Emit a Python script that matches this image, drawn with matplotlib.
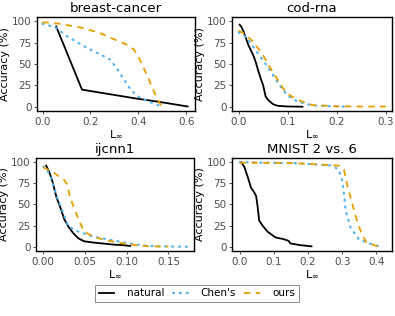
import matplotlib
matplotlib.use("Agg")
import matplotlib.pyplot as plt

# breast-cancer
bc_nat_x = [0.057, 0.165, 0.382, 0.494, 0.606]
bc_nat_y = [94, 20, 10, 5.4, 0.3]
bc_chen_x = [0.0, 0.053, 0.102, 0.172, 0.242, 0.284, 0.312, 0.34, 0.368, 0.396, 0.438, 0.5]
bc_chen_y = [97, 93, 82.5, 71, 61, 55, 44, 32, 20, 12.5, 6.6, 0]
bc_ours_x = [0.0, 0.074, 0.172, 0.242, 0.298, 0.35, 0.382, 0.403, 0.438, 0.48, 0.5]
bc_ours_y = [99, 97, 92, 86, 79, 73, 67, 57, 36, 8.5, 0]

# cod-rna
cod_nat_x = [0.002, 0.005, 0.01, 0.015, 0.02, 0.025, 0.03, 0.035, 0.04, 0.045, 0.05, 0.055, 0.06, 0.07, 0.08, 0.1, 0.13]
cod_nat_y = [96, 94, 88, 80, 72, 66, 60, 52, 42, 33, 25, 12, 8, 3, 1, 0.3, 0]
cod_chen_x = [0.0, 0.01, 0.02, 0.03, 0.04, 0.05, 0.06, 0.07, 0.08, 0.09, 0.1, 0.12, 0.15, 0.2, 0.22]
cod_chen_y = [87, 84, 78, 70, 62, 54, 46, 37, 28, 20, 13, 6, 1.5, 0.3, 0]
cod_ours_x = [0.0, 0.01, 0.02, 0.03, 0.04, 0.05, 0.06, 0.07, 0.08, 0.09, 0.1, 0.12, 0.15, 0.2, 0.25, 0.3]
cod_ours_y = [89, 86, 81, 76, 68, 60, 50, 40, 31, 22, 15, 8, 2, 0.5, 0.2, 0.2]

# ijcnn1
ij_nat_x = [0.0035, 0.007, 0.0105, 0.016, 0.021, 0.025, 0.03, 0.036, 0.042, 0.049, 0.06, 0.07, 0.085, 0.095, 0.104]
ij_nat_y = [96, 89, 79, 58, 45, 33, 24, 16, 10, 6.5, 5, 4, 2.5, 2, 1]
ij_chen_x = [0.0, 0.005, 0.01, 0.016, 0.025, 0.03, 0.042, 0.06, 0.081, 0.1, 0.12, 0.14, 0.172]
ij_chen_y = [95, 90, 80, 60, 37, 24, 18, 12, 8, 4.5, 1.5, 0.5, 0]
ij_ours_x = [0.0, 0.012, 0.025, 0.028, 0.033, 0.042, 0.049, 0.06, 0.074, 0.095, 0.113, 0.13, 0.15]
ij_ours_y = [94, 88, 79, 75, 56, 33, 18, 12, 8, 4, 1.5, 0.5, 0.2]

# MNIST 2 vs. 6
mn_nat_x = [0.005, 0.014, 0.024, 0.033, 0.043, 0.048, 0.052, 0.057, 0.067, 0.081, 0.105, 0.129, 0.143, 0.148, 0.176, 0.21]
mn_nat_y = [100, 94, 82, 70, 64, 60, 49, 31, 25, 18, 11, 9, 7, 4, 2, 0.5]
mn_chen_x = [0.0, 0.157, 0.271, 0.29, 0.3, 0.305, 0.31, 0.324, 0.348, 0.386, 0.41]
mn_chen_y = [100, 99, 96, 91, 78, 62, 43, 23, 9, 3, 0.5]
mn_ours_x = [0.0, 0.157, 0.29, 0.305, 0.314, 0.329, 0.343, 0.357, 0.371, 0.4, 0.41]
mn_ours_y = [99.5, 99, 96, 91, 74, 51, 31, 15, 5, 1, 0.5]

titles = ["breast-cancer", "cod-rna", "ijcnn1", "MNIST 2 vs. 6"]
series = [
    (bc_nat_x, bc_nat_y, bc_chen_x, bc_chen_y, bc_ours_x, bc_ours_y),
    (cod_nat_x, cod_nat_y, cod_chen_x, cod_chen_y, cod_ours_x, cod_ours_y),
    (ij_nat_x, ij_nat_y, ij_chen_x, ij_chen_y, ij_ours_x, ij_ours_y),
    (mn_nat_x, mn_nat_y, mn_chen_x, mn_chen_y, mn_ours_x, mn_ours_y),
]
xticks = [[0.0, 0.2, 0.4, 0.6], [0.0, 0.1, 0.2, 0.3], [0.0, 0.05, 0.10, 0.15], [0.0, 0.1, 0.2, 0.3, 0.4]]
xticklabels = [["0.0", "0.2", "0.4", "0.6"], ["0.0", "0.1", "0.2", "0.3"],
               ["0.00", "0.05", "0.10", "0.15"], ["0.0", "0.1", "0.2", "0.3", "0.4"]]
xlims = [(-0.023, 0.637), (-0.0135, 0.3115), (-0.0087, 0.1806), (-0.0225, 0.444)]

# panel boxes in pixels: left, top, right, bottom
boxes = [(37, 17, 195, 111), (232, 17, 391.5, 111), (36, 158, 194, 251), (232, 158, 391.5, 251)]

W, H = 395, 316
fig = plt.figure(figsize=(W / 100, H / 100), dpi=100)

grey = "#4D4D4D"
handles = None
for i in range(4):
    l, t, r, b = boxes[i]
    ax = fig.add_axes([l / W, 1 - b / H, (r - l) / W, (b - t) / H])
    nx, ny, cx, cy, ox, oy = series[i]
    h1, = ax.plot(nx, ny, color="black", lw=1.3, label="natural")
    h2, = ax.plot(cx, cy, color="#56B4E9", lw=1.6, linestyle=(0, (0.5, 2.6)),
                  dash_capstyle="round", label="Chen's")
    h3, = ax.plot(ox, oy, color="#E69F00", lw=1.3, linestyle=(0, (3.5, 3)), label="ours")
    handles = [h1, h2, h3]
    ax.set_xlim(*xlims[i])
    ax.set_ylim(-5, 105)
    ax.set_yticks([0, 25, 50, 75, 100])
    ax.set_xticks(xticks[i])
    ax.set_xticklabels(xticklabels[i])
    ax.tick_params(length=2.5, width=0.6, color="#333333", labelcolor=grey, labelsize=7.5, pad=1.5)
    for s in ax.spines.values():
        s.set_linewidth(1.0)
        s.set_color("black")
    ax.set_title(titles[i], fontsize=9.5, pad=3.5)
    ax.set_xlabel(r"L$_\infty$", fontsize=8, labelpad=1)
    ax.set_ylabel("Accuracy (%)", fontsize=8, labelpad=1)

leg = fig.legend(handles=handles, loc="center", bbox_to_anchor=(197 / W, 1 - 293.5 / H), ncol=3,
                 fontsize=7.5, frameon=True, fancybox=False, edgecolor="#555555",
                 handlelength=1.5, columnspacing=0.8, handletextpad=1.2, borderpad=0.3,
                 borderaxespad=0)
leg.get_frame().set_linewidth(0.6)

fig.savefig("out.png", dpi=100)
